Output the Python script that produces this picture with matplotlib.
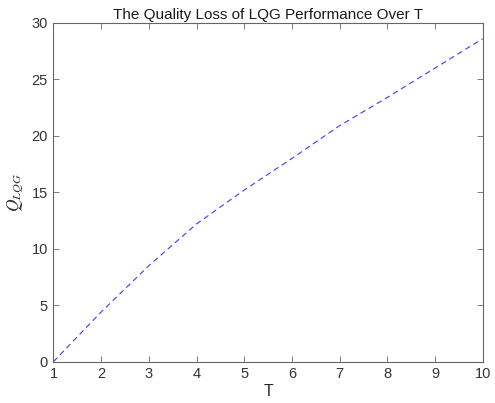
import matplotlib
matplotlib.use("Agg")
import matplotlib.pyplot as plt

T = [1, 2, 3, 4, 5, 6, 7, 8, 9, 10]
Q_LQG = [0, 4.4, 8.5, 12.2, 15.2, 18.0, 20.9, 23.4, 26.0, 28.6]
xticks = [1, 2, 3, 4, 5, 6, 7, 8, 9, 10]
yticks = [0, 5, 10, 15, 20, 25, 30]

plt.rcParams['font.family'] = ['Liberation Sans', 'DejaVu Sans']
plt.rcParams['mathtext.fontset'] = 'stix'

fig = plt.figure(figsize=(4.95, 4.03), dpi=100)
ax = fig.add_axes([0.108, 0.1025, 0.867, 0.8405])
ax.plot(T, Q_LQG, color='#3a3aff', linestyle='--', linewidth=0.8, dashes=(5, 3.5))
ax.set_xlim(1, 10)
ax.set_ylim(0, 30)
ax.set_xticks(xticks)
ax.set_yticks(yticks)
gc = '#262626'
for s in ax.spines.values():
    s.set_color('#666666')
    s.set_linewidth(0.8)
ax.tick_params(direction='in', top=True, right=True, length=4, width=0.6,
               colors='#666666', labelcolor='#333333', labelsize=10.5, pad=4)
ax.set_title('The Quality Loss of LQG Performance Over T', fontsize=11, color='#1a1a1a', pad=3)
ax.set_xlabel('T', fontsize=11.5, color=gc, labelpad=2)
ax.set_ylabel('$Q_{LQG}$', fontsize=12.5, color='#333333', labelpad=5)
fig.savefig('out.png', dpi=100)
